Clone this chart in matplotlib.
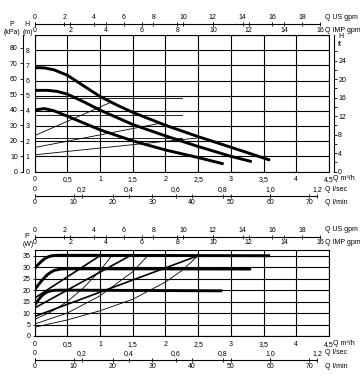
import numpy as np
import matplotlib
matplotlib.use("Agg")
import matplotlib.pyplot as plt

plt.rcParams['font.family'] = ['Liberation Sans Narrow', 'Liberation Sans', 'DejaVu Sans']
FS = 5

# ---- H-Q chart data (Q in m3/h, H in m)
q_h3 = [0, 0.15, 0.3, 0.5, 0.75, 1.0, 1.25, 1.5, 2.0, 2.5, 3.0, 3.6]
h_3 = [6.85, 6.83, 6.7, 6.35, 5.65, 4.95, 4.4, 3.9, 3.05, 2.3, 1.6, 0.75]
q_h2 = [0, 0.2, 0.35, 0.5, 0.75, 1.0, 1.5, 2.0, 2.5, 3.0, 3.32]
h_2 = [5.35, 5.35, 5.28, 5.1, 4.6, 4.05, 3.1, 2.35, 1.65, 1.0, 0.65]
q_h1 = [0, 0.15, 0.3, 0.5, 0.75, 1.0, 1.5, 2.0, 2.5, 2.89]
h_1 = [4.05, 4.15, 4.0, 3.65, 3.2, 2.75, 2.02, 1.42, 0.92, 0.5]
# proportional pressure lines (start, end)
pp_q = [[0, 1.16], [0, 1.92], [0, 2.56]]
pp_h = [[2.36, 4.55], [1.58, 3.18], [1.1, 2.24]]
# constant pressure lines
cp_h = [4.83, 3.73, 2.2]
cp_qmax = 2.25

# ---- P-Q chart data (P in W)
q_p3 = [0, 0.05, 0.1, 0.15, 0.2, 0.25, 0.3, 0.4, 3.6]
p_3 = [29.3, 31.0, 32.4, 33.6, 34.4, 34.9, 35.1, 35.2, 35.0]
q_p2 = [0, 0.05, 0.1, 0.15, 0.2, 0.25, 0.3, 0.4, 0.5, 3.31]
p_2 = [20.0, 22.0, 23.8, 25.4, 26.8, 27.8, 28.6, 29.2, 29.3, 29.2]
q_p1 = [0, 0.05, 0.1, 0.15, 0.2, 0.25, 0.3, 0.4, 2.87]
p_1 = [13.3, 15.4, 17.2, 18.5, 19.3, 19.7, 19.9, 20.0, 19.7]
ppw_q = [[0, 1.0], [0, 1.46], [0, 2.5]]
ppw_p = [[16.5, 35], [12.2, 35], [8.5, 35]]
cpw_q = [[0, 0.25, 0.5, 0.75, 1.0, 1.18],
         [0, 0.5, 1.0, 1.5, 1.73],
         [0, 0.5, 1.0, 1.5, 2.0, 2.25, 2.5]]
cpw_p = [[7.2, 10.5, 15.0, 21.0, 28.5, 35],
         [5.2, 10.0, 17.5, 28.0, 35],
         [3.8, 7.0, 11.0, 16.0, 23.5, 28.5, 35]]

q_ticks = [0, 0.5, 1, 1.5, 2, 2.5, 3, 3.5, 4, 4.5]
q_labels = ['0', '0,5', '1', '1,5', '2', '2,5', '3', '3,5', '4', '4,5']
us_gpm = [0, 2, 4, 6, 8, 10, 12, 14, 16, 18]
imp_gpm = [0, 2, 4, 6, 8, 10, 12, 14, 16]
l_sec = [0, 0.2, 0.4, 0.6, 0.8, 1.0, 1.2]
l_sec_labels = ['0', '0,2', '0,4', '0,6', '0,8', '1,0', '1,2']
l_min = [0, 10, 20, 30, 40, 50, 60, 70]
kpa_ticks = [0, 10, 20, 30, 40, 50, 60, 70, 80]
ft_ticks = [0, 4, 8, 12, 16, 20, 24]
w_ticks = [0, 5, 10, 15, 20, 25, 30, 35]

W, H = 360, 392
fig = plt.figure(figsize=(W / 100, H / 100), dpi=100)
L, R = 34.5, 329


def box(x0, y0, x1, y1):
    return [x0 / W, 1 - y1 / H, (x1 - x0) / W, (y1 - y0) / H]


def scale_line(y, xmax, top_pos, top_lab, bot_pos, bot_lab, top_name, bot_name):
    a = fig.add_axes(box(L, y, L + (R - L) * xmax / 4.5, y + 0.01))
    a.set_xlim(0, xmax)
    a.set_ylim(0, 1)
    a.patch.set_visible(False)
    for s in ['left', 'right', 'top']:
        a.spines[s].set_visible(False)
    a.spines['bottom'].set_linewidth(0.8)
    a.set_yticks([])
    a.set_xticks(bot_pos)
    a.set_xticklabels(bot_lab)
    a.tick_params(axis='x', which='both', bottom=True, top=True, labelbottom=True,
                  direction='inout', length=2.5, width=0.6, pad=0.8, labelsize=FS)
    t = a.twiny()
    t.set_xlim(0, xmax)
    t.patch.set_visible(False)
    for s in t.spines.values():
        s.set_visible(False)
    t.set_xticks(top_pos)
    t.set_xticklabels(top_lab)
    t.tick_params(axis='x', direction='inout', length=2.5, width=0.6, pad=0.8, labelsize=FS)
    fig.text(325 / W, 1 - (y - 7) / H, top_name, fontsize=FS, ha='left', va='center')
    fig.text(325 / W, 1 - (y + 6) / H, bot_name, fontsize=FS, ha='left', va='center')


def base_axes(ax, ymax, yt):
    ax.set_xlim(0, 4.5)
    ax.set_ylim(0, ymax)
    ax.set_xticks(q_ticks)
    ax.set_xticklabels(q_labels)
    ax.set_yticks(yt)
    ax.grid(True, color='black', lw=0.8)
    for s in ax.spines.values():
        s.set_linewidth(0.8)
    ax.tick_params(axis='x', length=0, pad=3.5, labelsize=FS)
    fig.text((R + 4) / W, ax.get_position().y0 - 7.5 / H, 'Q m³/h', fontsize=FS,
             ha='left', va='center')


# ---------- top chart
ax1 = fig.add_axes(box(L, 35, R, 171.5))
base_axes(ax1, 9, range(0, 10))
ax1.set_yticklabels([str(v) for v in range(0, 9)] + [''])
ax1.tick_params(axis='y', length=0, pad=3.5, labelsize=FS)
for q, h in zip(pp_q, pp_h):
    ax1.plot(q, h, color='black', lw=0.6)
for h in cp_h:
    ax1.plot([0, cp_qmax], [h, h], color='black', lw=0.6)
for q, h in [(q_h3, h_3), (q_h2, h_2), (q_h1, h_1)]:
    ax1.plot(q, h, color='black', lw=2.1, solid_capstyle='butt')

kp = ax1.secondary_yaxis((22.7 - L) / (R - L), functions=(lambda m: m * 9.81, lambda k: k / 9.81))
kp.set_yticks(kpa_ticks)
kp.tick_params(length=2.5, width=0.6, pad=1, labelsize=FS)
kp.spines['left'].set_linewidth(0.8)

ft = ax1.secondary_yaxis((334 - L) / (R - L), functions=(lambda m: m * 3.281, lambda f: f / 3.281))
ft.set_yticks(ft_ticks)
ft.set_yticks(range(2, 27, 4), minor=True)
ft.tick_params(which='both', length=2, width=0.6, pad=1, labelsize=FS)
ft.spines['right'].set_linewidth(0.8)

fig.text(12 / W, 1 - 24 / H, 'P', fontsize=FS, ha='center', va='center')
fig.text(12 / W, 1 - 32 / H, '(kPa)', fontsize=FS, ha='center', va='center')
fig.text(27 / W, 1 - 24 / H, 'H', fontsize=FS, ha='center', va='center')
fig.text(28 / W, 1 - 32 / H, '(m)', fontsize=FS, ha='center', va='center')
fig.text(338 / W, 1 - 37 / H, 'H', fontsize=FS, ha='left', va='center')
fig.text(338 / W, 1 - 44 / H, 'ft', fontsize=FS, ha='left', va='center')

scale_line(24.3, 16 / 3.666, [v / 4.403 for v in us_gpm], [str(v) for v in us_gpm],
           [v / 3.666 for v in imp_gpm], [str(v) for v in imp_gpm], 'Q US gpm', 'Q IMP gpm')
scale_line(196.3, 1.2 * 3.6, [v * 3.6 for v in l_sec], l_sec_labels,
           [v * 0.06 for v in l_min], [str(v) for v in l_min], 'Q l/sec', 'Q l/min')

# ---------- bottom chart
ax2 = fig.add_axes(box(L, 250, R, 336))
base_axes(ax2, 37.5, w_ticks)
ax2.set_yticklabels([str(v) for v in w_ticks])
ax2.tick_params(axis='y', length=1.5, width=0.6, pad=1.5, labelsize=FS)
for q, p in zip(cpw_q, cpw_p):
    ax2.plot(q, p, color='black', lw=0.6)
for q, p in zip(ppw_q, ppw_p):
    ax2.plot(q, p, color='black', lw=1.2)
for q, p in [(q_p3, p_3), (q_p2, p_2), (q_p1, p_1)]:
    ax2.plot(q, p, color='black', lw=2.1, solid_capstyle='butt')

fig.text(27 / W, 1 - 236 / H, 'P', fontsize=FS, ha='center', va='center')
fig.text(28 / W, 1 - 245 / H, '(W)', fontsize=FS, ha='center', va='center')

scale_line(236.5, 16 / 3.666, [v / 4.403 for v in us_gpm], [str(v) for v in us_gpm],
           [v / 3.666 for v in imp_gpm], [str(v) for v in imp_gpm], 'Q US gpm', 'Q IMP gpm')
scale_line(360, 1.2 * 3.6, [v * 3.6 for v in l_sec], l_sec_labels,
           [v * 0.06 for v in l_min], [str(v) for v in l_min], 'Q l/sec', 'Q l/min')

fig.savefig('out.png', dpi=100)
